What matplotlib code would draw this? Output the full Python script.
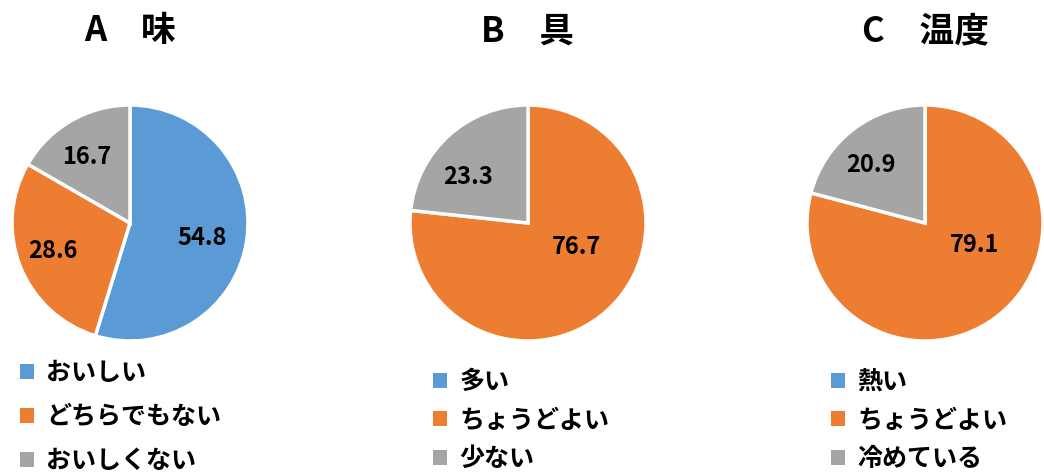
import matplotlib
matplotlib.use("Agg")
import matplotlib.pyplot as plt
from matplotlib.patches import Patch

plt.rcParams["font.family"] = ["Noto Sans CJK JP", "DejaVu Sans"]
plt.rcParams["font.weight"] = "bold"

COLORS = ["#5B9BD5", "#ED7D31", "#A5A5A5"]

titles = ["A\u3000味", "B\u3000具", "C\u3000温度"]
labels_a = ["おいしい", "どちらでもない", "おいしくない"]
labels_b = ["多い", "ちょうどよい", "少ない"]
labels_c = ["熱い", "ちょうどよい", "冷めている"]
values_a = [54.8, 28.6, 16.7]
values_b = [0.0, 76.7, 23.3]
values_c = [0.0, 79.1, 20.9]

W, H = 1044, 475
fig = plt.figure(figsize=(W / 100, H / 100), dpi=100)

# pixel layout per pie: center, radius, legend anchor, row spacing
layout = [
    dict(cx=130, cy=223, r=118, lx=20, ly=361, sp=0.80),
    dict(cx=528, cy=223, r=118, lx=433, ly=370, sp=0.58),
    dict(cx=925, cy=223, r=118, lx=831, ly=370, sp=0.58),
]
# data label offsets from the pie center, in units of radius (Excel "best fit")
label_pos = [
    [(0.61, -0.13), (-0.65, -0.24), (-0.37, 0.56)],
    [None, (0.41, -0.20), (-0.51, 0.39)],
    [None, (0.42, -0.19), (-0.46, 0.49)],
]

charts = [(values_a, labels_a), (values_b, labels_b), (values_c, labels_c)]

for (vals, labs), title, L, lpos in zip(charts, titles, layout, label_pos):
    cx, cy, r = L["cx"], L["cy"], L["r"]
    ax = fig.add_axes([(cx - r) / W, (H - cy - r) / H, 2 * r / W, 2 * r / H])
    ax.pie(vals, colors=COLORS, startangle=90, counterclock=False,
           radius=1, wedgeprops=dict(edgecolor="white", linewidth=2.5))
    ax.set_xlim(-1, 1)
    ax.set_ylim(-1, 1)
    ax.set_aspect("equal")
    ax.axis("off")
    for v, p in zip(vals, lpos):
        if p is None or v <= 0:
            continue
        ax.text(p[0], p[1], f"{v:.1f}", ha="center", va="center",
                fontsize=17, fontweight="bold")
    fig.text(cx / W, 1 - 31 / H, title, ha="center", va="center",
             fontsize=25, fontweight="bold")
    handles = [Patch(facecolor=c, edgecolor="none") for c in COLORS]
    fig.legend(handles, labs, loc="upper left",
               bbox_to_anchor=(L["lx"] / W, 1 - L["ly"] / H), frameon=False,
               fontsize=18, handlelength=0.55, handleheight=0.55,
               handletextpad=0.5, labelspacing=L["sp"], borderpad=0,
               borderaxespad=0)

fig.savefig("out.png", dpi=100)
